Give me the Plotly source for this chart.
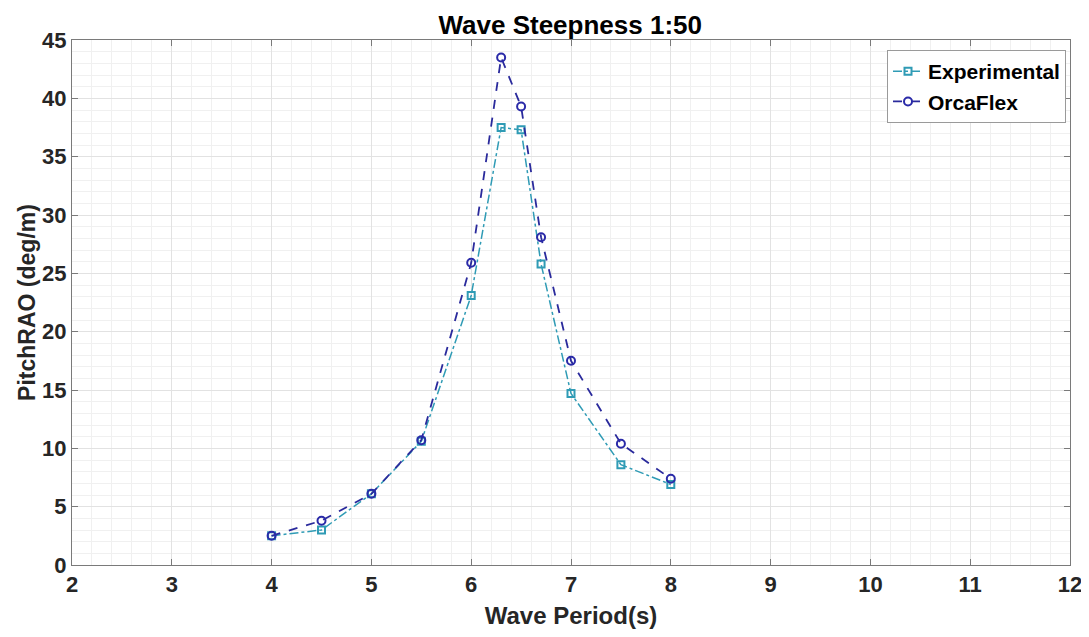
import plotly.graph_objects as go

# wave periods (s)
period = [4, 4.5, 5, 5.5, 6, 6.3, 6.5, 6.7, 7, 7.5, 8]

# pitch RAO (deg/m)
experimental = [2.5, 3.0, 6.1, 10.6, 23.1, 37.5, 37.3, 25.8, 14.7, 8.6, 6.9]
orcaflex = [2.5, 3.8, 6.1, 10.7, 25.9, 43.5, 39.3, 28.1, 17.5, 10.4, 7.4]

x_ticks = [2, 3, 4, 5, 6, 7, 8, 9, 10, 11, 12]
y_ticks = [0, 5, 10, 15, 20, 25, 30, 35, 40, 45]

fig = go.Figure()
fig.add_trace(go.Scatter(
    x=period, y=experimental, name='<b>Experimental</b>', mode='lines+markers',
    line=dict(color='#2f9bb5', width=1.5, dash='dashdot'),
    marker=dict(symbol='square-open', size=7, color='#2f9bb5', line=dict(width=2))))
fig.add_trace(go.Scatter(
    x=period, y=orcaflex, name='<b>OrcaFlex</b>', mode='lines+markers',
    line=dict(color='#2a2a9c', width=1.8, dash='dash'),
    marker=dict(symbol='circle-open', size=8, color='#2a2aa8', line=dict(width=2))))

fnt = 'Arial, Liberation Sans, sans-serif'
# the page has an 8px body margin, so the figure is sized to fit inside it
fig.update_layout(
    width=1073, height=621,
    paper_bgcolor='white', plot_bgcolor='white',
    margin=dict(l=64, r=11, t=32, b=64),
    title=dict(text='<b>Wave Steepness 1:50</b>', x=0.524, xanchor='center', y=0.973, yanchor='middle',
               font=dict(family=fnt, size=26, color='black')),
    legend=dict(x=0.996, y=0.981, xanchor='right', yanchor='top',
                bgcolor='white', bordercolor='#9a9a9a', borderwidth=1,
                font=dict(family=fnt, size=21, color='black'),
                tracegroupgap=0, itemwidth=30),
    font=dict(family=fnt, size=22, color='#262626'),
)
fig.update_xaxes(
    range=[2, 12], tickvals=x_ticks, ticktext=['<b>%d</b>' % v for v in x_ticks],
    ticklabeloverflow='allow',
    title=dict(text='<b>Wave Period(s)</b>', standoff=12, font=dict(size=24)),
    automargin=False,
    showline=True, linecolor='#7a7a7a', mirror='ticks', ticks='inside', ticklen=6, tickcolor='#7a7a7a',
    showgrid=True, gridcolor='#e2e2e2', gridwidth=1,
    minor=dict(dtick=0.2, showgrid=True, gridcolor='#f0f0f0', gridwidth=1),
    zeroline=False)
fig.update_yaxes(
    range=[0, 45], tickvals=y_ticks, ticktext=['<b>%d</b>' % v for v in y_ticks],
    title=dict(text='<b>PitchRAO (deg/m)</b>', standoff=0, font=dict(size=23)),
    automargin=False,
    showline=True, linecolor='#7a7a7a', mirror='ticks', ticks='inside', ticklen=6, tickcolor='#7a7a7a',
    showgrid=True, gridcolor='#e2e2e2', gridwidth=1,
    minor=dict(dtick=1, showgrid=True, gridcolor='#f0f0f0', gridwidth=1),
    zeroline=False)

fig.write_html("out.html")
